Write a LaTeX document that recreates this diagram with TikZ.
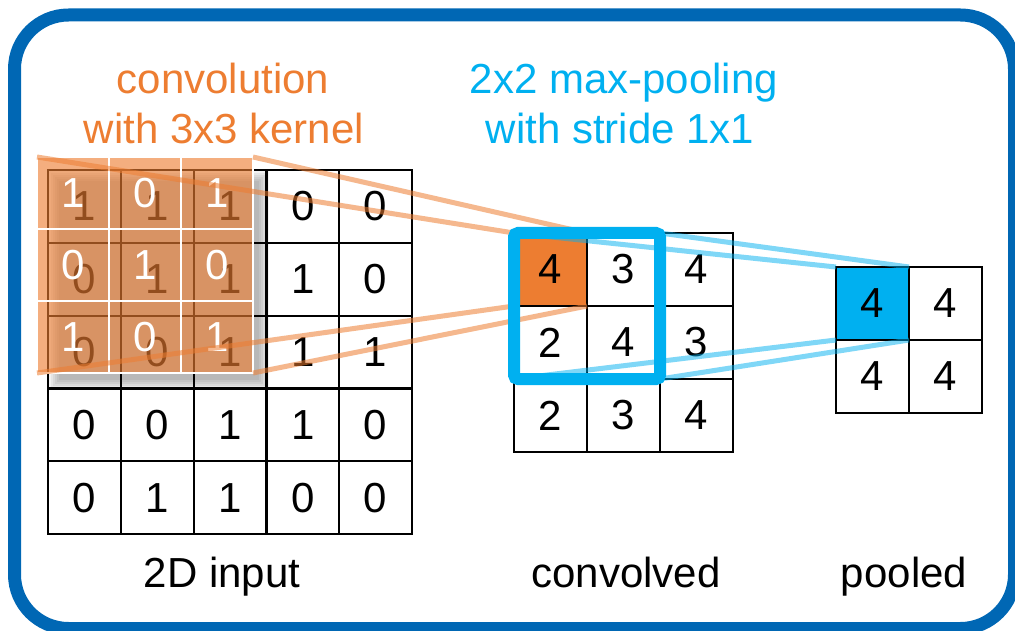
\documentclass[tikz,border=0pt]{standalone}
\usepackage{fontspec}
\setmainfont{Liberation Sans}
\definecolor{convorange}{HTML}{ED7D31}
\definecolor{poolblue}{HTML}{00B0F0}
\definecolor{framblue}{HTML}{0067B4}
\newcommand\lblfont{\fontsize{42}{50}\selectfont}
\tikzset{
  cell/.style={rectangle, draw=black, line width=2.2pt, fill=white,
    minimum size=#1, inner sep=0pt, outer sep=0pt, font=\lblfont},
  cell/.default=72.8pt,
  kerncell/.style={rectangle, fill=convorange, fill opacity=0.62,
    draw=white, draw opacity=1, line width=2.5pt, text=white, text opacity=1,
    minimum size=72pt, inner sep=0pt, outer sep=0pt, font=\lblfont},
  convlink/.style={draw=convorange, draw opacity=0.55, line width=5pt},
  poollink/.style={draw=poolblue, draw opacity=0.5, line width=5pt},
  lbl/.style={anchor=base, inner sep=0pt, font=\lblfont},
}
\begin{document}
\begin{tikzpicture}[x=1pt, y=-1pt]
\useasboundingbox (0,0) rectangle (1015,631);

% outer rounded frame
\draw[framblue, line width=13pt, rounded corners=54pt]
  (14.5,15) rectangle (1014.5,628.5);

% 5x5 input grid
\foreach \row [count=\r from 0] in {{1,1,1,0,0},{0,1,1,1,0},{0,0,1,1,1},{0,0,1,1,0},{0,1,1,0,0}} {
  \foreach \v [count=\c from 0] in \row {
    \node[cell] (in-\r-\c) at ({48+36.4+72.8*\c},{170+36.4+72.8*\r}) {\v};
  }
}

% soft shadow under the kernel
\foreach \d in {0,2,4,6,8,10} {
  \fill[black, opacity=0.05] ({49+\d},{171+\d}) rectangle ({269-\d},{390-\d});
}

% 3x3 kernel laid over the input
\foreach \row [count=\r from 0] in {{1,0,1},{0,1,0},{1,0,1}} {
  \foreach \v [count=\c from 0] in \row {
    \node[kerncell] (k-\r-\c) at ({37+36+72*\c},{157+36+72*\r}) {\v};
  }
}

% convolved feature map
\foreach \row [count=\r from 0] in {{4,3,4},{2,4,3},{2,3,4}} {
  \foreach \v [count=\c from 0] in \row {
    \node[cell=73pt] (c-\r-\c) at ({514+36.5+73*\c},{233+36.5+73*\r}) {\v};
  }
}
\node[cell=73pt, fill=convorange] (c-0-0) at (550.5,269.5) {4};

% pooled feature map
\foreach \row [count=\r from 0] in {{4,4},{4,4}} {
  \foreach \v [count=\c from 0] in \row {
    \node[cell=73pt] (p-\r-\c) at ({836+36.5+73*\c},{267+36.5+73*\r}) {\v};
  }
}
\node[cell=73pt, fill=poolblue] (p-0-0) at (872.5,303.5) {4};

% kernel to convolved cell
\draw[convlink] (k-0-0.north west) -- (c-0-0.north west);
\draw[convlink] (k-0-2.north east) -- (c-0-0.north east);
\draw[convlink] (k-2-0.south west) -- (c-0-0.south west);
\draw[convlink] (k-2-2.south east) -- (c-0-0.south east);

% pooling window to pooled cell
\draw[poollink] (c-0-0.north west) -- (p-0-0.north west);
\draw[poollink] (c-0-1.north east) -- (p-0-0.north east);
\draw[poollink] (c-1-0.south west) -- (p-0-0.south west);
\draw[poollink] (c-1-1.south east) -- (p-0-0.south east);

% 2x2 pooling window
\draw[poolblue, line width=12pt, rounded corners=4pt]
  (c-0-0.north west) rectangle (c-1-1.south east);

% titles and captions
\node[lbl, text=convorange] (conv-title-a) at (223,94) {convolution};
\node[lbl, text=convorange] (conv-title-b) at (224,144) {with 3x3 kernel};
\node[lbl, text=poolblue] (pool-title-a) at (624,94) {2x2 max-pooling};
\node[lbl, text=poolblue] (pool-title-b) at (620,144) {with stride 1x1};
\node[lbl] (cap-input) at (222,587) {2D input};
\node[lbl] (cap-conv) at (626,587) {convolved};
\node[lbl] (cap-pool) at (904,587) {pooled};
\end{tikzpicture}
\end{document}
